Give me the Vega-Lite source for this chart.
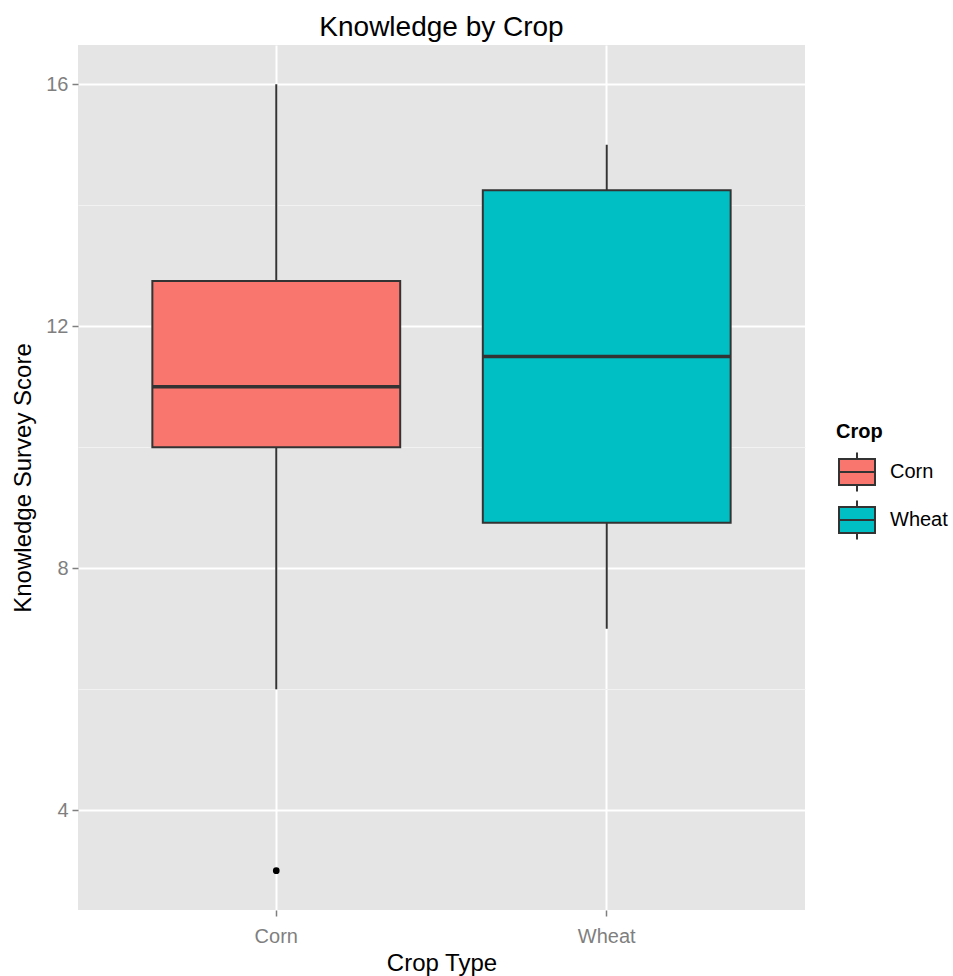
{
  "$schema": "https://vega.github.io/schema/vega-lite/v6.json",
  "autosize": {"type": "none"},
  "padding": {"left": 78, "top": 45, "right": 148, "bottom": 66},
  "width": 727,
  "height": 865,
  "background": "white",
  "title": {"text": "Knowledge by Crop", "fontSize": 28, "font": "Liberation Sans", "fontWeight": "normal", "color": "black", "anchor": "middle", "offset": 3},
  "config": {
    "font": "Liberation Sans",
    "view": {"fill": "#E5E5E5", "stroke": null},
    "axis": {"domain": false, "gridColor": "white", "gridWidth": 2, "tickColor": "#7F7F7F", "tickWidth": 1.5, "tickSize": 6, "labelColor": "#7F7F7F", "labelFontSize": 20, "labelFont": "Liberation Sans", "titleFont": "Liberation Sans", "titleFontSize": 24, "titleFontWeight": "normal", "titleColor": "black"}
  },
  "datasets": {
    "boxes": [
      {"Crop": "Corn", "lower": 6, "q1": 10, "median": 11, "q3": 12.75, "upper": 16},
      {"Crop": "Wheat", "lower": 7, "q1": 8.75, "median": 11.5, "q3": 14.25, "upper": 15}
    ],
    "outliers": [
      {"Crop": "Corn", "score": 3}
    ]
  },
  "data": {"name": "boxes"},
  "encoding": {
    "x": {"field": "Crop", "type": "nominal", "scale": {"domain": ["Corn", "Wheat"], "paddingInner": 0.25, "paddingOuter": 0.225},
      "axis": {"title": "Crop Type", "labelAngle": 0, "labelPadding": 10, "titlePadding": 5, "grid": true}}
  },
  "layer": [
    {
      "mark": {"type": "rule", "color": "#333333", "strokeWidth": 2},
      "encoding": {
        "y": {"field": "lower", "type": "quantitative", "scale": {"domain": [2.35, 16.65], "nice": false, "zero": false},
          "axis": {"values": [4, 8, 12, 16], "title": "Knowledge Survey Score", "labelPadding": 4, "titlePadding": 10, "grid": true}},
        "y2": {"field": "upper"}
      }
    },
    {
      "mark": {"type": "bar", "stroke": "#333333", "strokeWidth": 2},
      "encoding": {
        "y": {"field": "q1", "type": "quantitative",
          "axis": {"values": [6, 10, 14], "orient": "right", "labels": false, "ticks": false, "title": null, "grid": true, "gridColor": "#F2F2F2", "gridWidth": 1}},
        "y2": {"field": "q3"},
        "fill": {"field": "Crop", "type": "nominal", "scale": {"domain": ["Corn", "Wheat"], "range": ["#F8766D", "#00BFC4"]},
          "legend": {"title": "Crop", "orient": "none", "legendX": 758, "legendY": 377, "titleFontSize": 20, "titleFontWeight": "bold", "titleColor": "black", "titlePadding": 9, "labelFontSize": 20, "labelColor": "black", "labelOffset": 12, "rowPadding": 0,
            "symbolType": "M-0.9,-0.65H0.9V0.65H-0.9Z M-0.9,0H0.9 M0,-0.65V-0.98 M0,0.65V0.98", "symbolSize": 1600, "symbolStrokeColor": "#333333", "symbolStrokeWidth": 2, "symbolOpacity": 1}}
      }
    },
    {
      "mark": {"type": "tick", "color": "#333333", "thickness": 3.5, "size": 248, "orient": "horizontal", "opacity": 1},
      "encoding": {
        "y": {"field": "median", "type": "quantitative", "axis": null}
      }
    },
    {
      "data": {"name": "outliers"},
      "mark": {"type": "point", "filled": true, "color": "black", "size": 45, "opacity": 1},
      "encoding": {
        "y": {"field": "score", "type": "quantitative", "axis": null}
      }
    }
  ],
  "resolve": {"axis": {"y": "independent"}}
}
